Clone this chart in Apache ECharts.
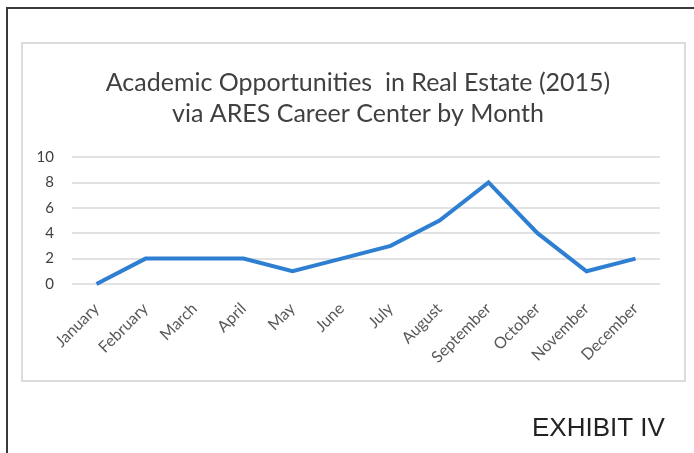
<!DOCTYPE html>
<html><head><meta charset="utf-8">
<script src="https://cdn.jsdelivr.net/npm/echarts@6/dist/echarts.min.js"></script>
<style>html,body{margin:0;padding:0;background:#fff}#c{width:694px;height:453px}</style>
</head><body><div id="c"></div>
<script>
const months = ["January","February","March","April","May","June","July","August","September","October","November","December"];
const values = [0,2,2,2,1,2,3,5,8,4,1,2];
const titleLines = ["Academic Opportunities  in Real Estate (2015)","via ARES Career Center by Month"];
const exhibit = "EXHIBIT IV";
const yTicks = {min:0,max:10,interval:2};

const chart = echarts.init(document.getElementById('c'), null, {renderer:'canvas'});
chart.setOption({
  animation:false,
  backgroundColor:'#fff',
  title:{
    text: titleLines.join('\n'),
    left:353, top:62, textAlign:'center',
    textStyle:{fontFamily:'Lato', fontSize:25, fontWeight:'normal', color:'#404040', lineHeight:31}
  },
  graphic:[
    {type:'polyline', shape:{points:[[7,460],[7,8],[700,8]]}, style:{stroke:'#3a3a3a', lineWidth:2, fill:null}},
    {type:'rect', shape:{x:22,y:43,width:663,height:338}, style:{stroke:'#dcdcdc', lineWidth:2, fill:null}, z:-1},
    {type:'text', left:532, top:416, style:{text:exhibit, fontFamily:'Liberation Sans', fontSize:26, fill:'#222'}}
  ],
  grid:{left:72, right:34, top:157, bottom:169, containLabel:false},
  xAxis:{
    type:'category', data:months, boundaryGap:true,
    axisLine:{show:false}, axisTick:{show:false},
    axisLabel:{rotate:45, interval:0, fontFamily:'Lato', fontSize:16, color:'#595959', margin:22}
  },
  yAxis:{
    type:'value', min:yTicks.min, max:yTicks.max, interval:yTicks.interval,
    axisLine:{show:false}, axisTick:{show:false},
    axisLabel:{fontFamily:'Lato', fontSize:15, color:'#404040', margin:18}
    ,splitLine:{lineStyle:{color:'#d9d9d9', width:1.5}}
  },
  series:[{
    type:'line', data:values, symbol:'none',
    lineStyle:{color:'#2e7fd2', width:4, join:'miter'}
  }]
});
</script></body></html>
